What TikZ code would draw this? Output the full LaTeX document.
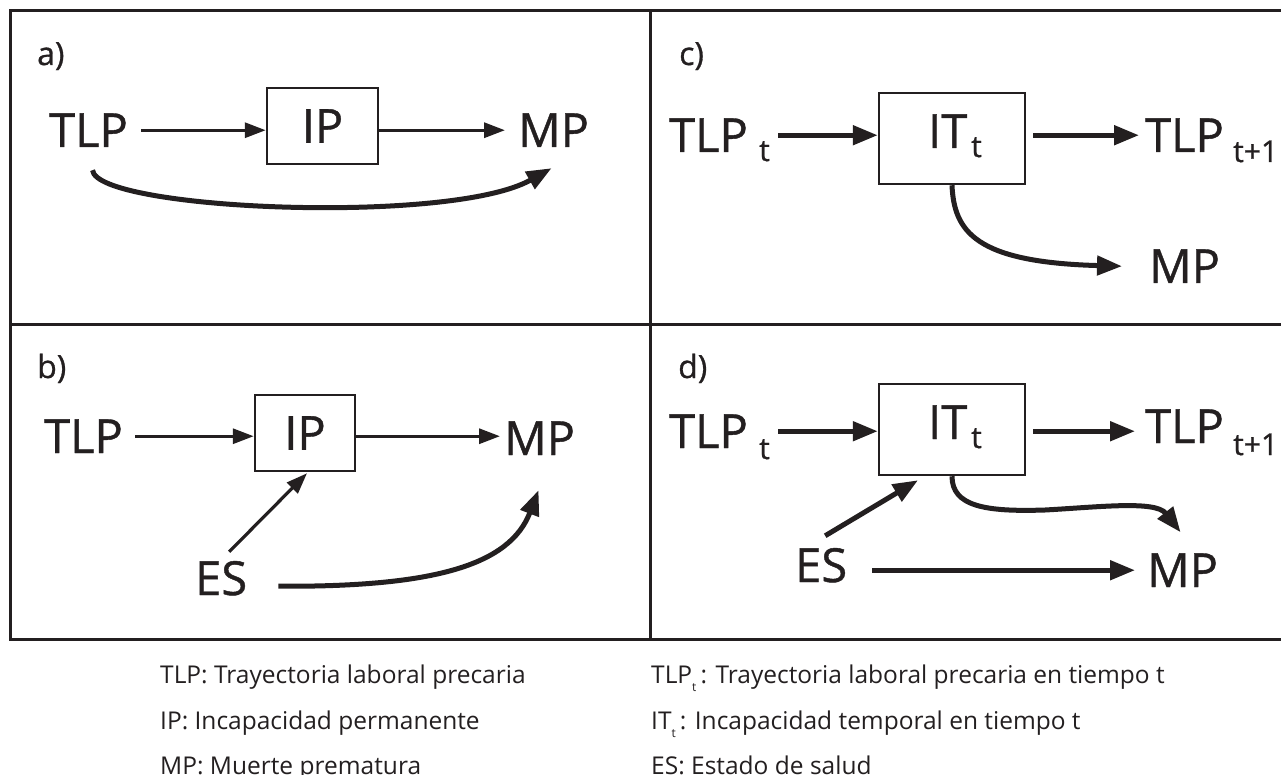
\documentclass[tikz,border=0pt]{standalone}
\usepackage{fontspec}
\setmainfont{Open Sans}
\newfontfamily\labfont[FakeBold=0.9]{Open Sans}
\usetikzlibrary{arrows.meta}
\definecolor{ink}{RGB}{35,31,32}
\begin{document}
\begin{tikzpicture}[x=1pt,y=-1pt,
  every node/.style={text=ink},
  lbl/.style={font=\labfont\fontsize{47}{50}\selectfont, inner sep=0pt, anchor=base west},
  sublbl/.style={font=\labfont\fontsize{30}{33}\selectfont, inner sep=0pt, anchor=base west},
  panel/.style={font=\labfont\fontsize{32}{35}\selectfont, inner sep=0pt, anchor=base west},
  legend/.style={font=\fontsize{24.5}{27}\selectfont, inner sep=0pt, anchor=base west},
  boxn/.style={draw=ink, line width=2.5pt, font=\labfont\fontsize{47}{50}\selectfont, inner sep=0pt},
  frame/.style={draw=ink, line width=3pt, line join=miter},
  thinarr/.style={draw=ink, line width=3.2pt, -{Triangle[length=21pt,width=15pt]}},
  thickarr/.style={draw=ink, line width=5pt, -{Triangle[length=25pt,width=19pt]}},
]
\useasboundingbox (0,0) rectangle (1281,775);

% frame of the four panels
\draw[frame] (1281,11) -- (10.5,11) -- (10.5,639) -- (1281,639);
\draw[frame] (10.5,324) -- (1281,324);
\draw[frame] (650,11) -- (650,639);

% ---------- panel a ----------
\node[panel] (labA) at (37,65) {a)};
\node[lbl] (tlpA) at (49,147) {TLP};
\node[boxn, minimum width=111pt, minimum height=76pt] (ipA) at (322.5,126) {IP};
\node[lbl] (mpA) at (518,147) {MP};
\draw[thinarr] ([xshift=13pt]tlpA.east) -- (tlpA.east -| ipA.west);
\draw[thinarr] (ipA.east |- tlpA.east) -- ([xshift=-13pt]mpA.west |- tlpA.east);
\draw[thickarr] ([shift={(4,23)}]tlpA.south) .. controls +(4,40) and +(-101,57) .. ([shift={(-2,21)}]mpA.south);

% ---------- panel b ----------
\node[panel] (labB) at (37,378) {b)};
\node[lbl] (tlpB) at (44,453) {TLP};
\node[boxn, minimum width=100pt, minimum height=76pt] (ipB) at (305,433) {IP};
\node[lbl] (mpB) at (504,455) {MP};
\node[lbl] (esB) at (195,595) {ES};
\draw[thinarr] ([xshift=12pt]tlpB.east) -- (tlpB.east -| ipB.west);
\draw[thinarr] (ipB.east |- tlpB.east) -- ([xshift=-4pt]mpB.west |- tlpB.east);
\draw[thinarr] ([shift={(8,-9)}]esB.north) -- ([shift={(2,1)}]ipB.south);
\draw[thickarr] ([shift={(31,8)}]esB.east) .. controls +(156,1) and +(-29,75) .. ([shift={(-1,35)}]mpB.south);

% ---------- panel c ----------
\node[panel] (labC) at (679,65) {c)};
\node[lbl] (tlpC) at (669,152) {TLP};
\node[sublbl] (tlpCs) at (759,161) {t};
\node[boxn, minimum width=146pt, minimum height=91pt] (itC) at (952,138.5) {};
\node[lbl] (itCt) at (928,148) {IT};
\node[sublbl] (itCs) at (971,157) {t};
\node[lbl] (tlpC2) at (1145,152) {TLP};
\node[sublbl] (tlpC2s) at (1233,162) {t+1};
\node[lbl] (mpC) at (1149,283) {MP};
\draw[thickarr] ([xshift=8pt]tlpCs.east |- tlpC.east) -- (tlpC.east -| itC.west);
\draw[thickarr] ([xshift=7pt]itC.east |- tlpC.east) -- ([xshift=-6pt]tlpC2.west |- tlpC.east);
\draw[thickarr] (itC.south) .. controls +(2,46) and +(-147,-4) .. ([xshift=-27pt]mpC.west);

% ---------- panel d ----------
\node[panel] (labD) at (678,378) {d)};
\node[lbl] (tlpD) at (669,448) {TLP};
\node[sublbl] (tlpDs) at (759,459) {t};
\node[boxn, minimum width=146pt, minimum height=91pt] (itD) at (952,429.5) {};
\node[lbl] (itDt) at (928,439) {IT};
\node[sublbl] (itDs) at (971,448) {t};
\node[lbl] (tlpD2) at (1145,443) {TLP};
\node[sublbl] (tlpD2s) at (1233,455) {t+1};
\node[lbl] (esD) at (795,582) {ES};
\node[lbl] (mpD) at (1147,587) {MP};
\coordinate (wavD) at (1045,510);
\draw[thickarr] ([xshift=8pt]tlpDs.east |- tlpD.east) -- (tlpD.east -| itD.west);
\draw[thickarr] ([xshift=7pt]itD.east |- tlpD.east) -- ([xshift=-10pt]tlpD2.west |- tlpD.east);
\draw[thickarr] ([shift={(4,-12)}]esD.north) -- ([shift={(-34,4)}]itD.south);
\draw[thickarr] ([xshift=25pt]esD.east |- mpD.west) -- ([xshift=-12pt]mpD.west);
\draw[thickarr] (itD.south) .. controls +(0,30) and +(-60,2) .. (wavD)
  .. controls +(55,-3) and +(-25,-32) .. ([shift={(-2,-21)}]mpD.north);

% ---------- legend ----------
\node[legend] (legTLP) at (160,683) {TLP: Trayectoria laboral precaria};
\node[legend] (legIP) at (160,729) {IP: Incapacidad permanente};
\node[legend] (legMP) at (160,774) {MP: Muerte prematura};
\node[legend] (legTLPt) at (651,683) {TLP\raisebox{-8pt}{\fontsize{12}{12}\selectfont t}\,: Trayectoria laboral precaria en tiempo t};
\node[legend] (legITt) at (651,729) {IT\raisebox{-8pt}{\fontsize{12}{12}\selectfont t}\,: Incapacidad temporal en tiempo t};
\node[legend] (legES) at (651,774) {ES: Estado de salud};
\end{tikzpicture}
\end{document}
